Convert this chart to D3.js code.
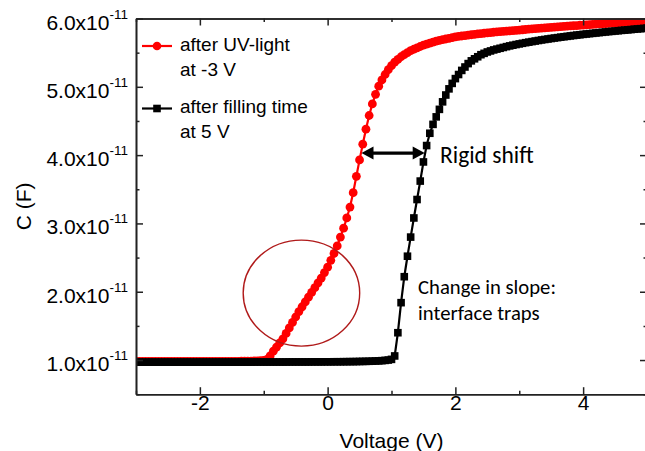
<!DOCTYPE html>
<html>
<head>
<meta charset="utf-8">
<script src="https://cdn.jsdelivr.net/npm/d3@7/dist/d3.min.js"></script>
<style>
  html, body { margin: 0; padding: 0; background: #fff; }
  svg { display: block; }
</style>
</head>
<body>
<svg id="chart" width="645" height="451"></svg>
<script>
// Gate-voltage sweep (V)
const voltage = [
  -3.00,-2.95,-2.90,-2.85,-2.80,-2.75,-2.70,-2.65,-2.60,-2.55,
  -2.50,-2.45,-2.40,-2.35,-2.30,-2.25,-2.20,-2.15,-2.10,-2.05,
  -2.00,-1.95,-1.90,-1.85,-1.80,-1.75,-1.70,-1.65,-1.60,-1.55,
  -1.50,-1.45,-1.40,-1.35,-1.30,-1.25,-1.20,-1.15,-1.10,-1.05,
  -1.00,-0.95,-0.90,-0.85,-0.80,-0.75,-0.70,-0.65,-0.60,-0.55,
  -0.50,-0.45,-0.40,-0.35,-0.30,-0.25,-0.20,-0.15,-0.10,-0.05,
   0.00, 0.05, 0.10, 0.15, 0.20, 0.25, 0.30, 0.35, 0.40, 0.45,
   0.50, 0.55, 0.60, 0.65, 0.70, 0.75, 0.80, 0.85, 0.90, 0.95,
   1.00, 1.05, 1.10, 1.15, 1.20, 1.25, 1.30, 1.35, 1.40, 1.45,
   1.50, 1.55, 1.60, 1.65, 1.70, 1.75, 1.80, 1.85, 1.90, 1.95,
   2.00, 2.05, 2.10, 2.15, 2.20, 2.25, 2.30, 2.35, 2.40, 2.45,
   2.50, 2.55, 2.60, 2.65, 2.70, 2.75, 2.80, 2.85, 2.90, 2.95,
   3.00, 3.05, 3.10, 3.15, 3.20, 3.25, 3.30, 3.35, 3.40, 3.45,
   3.50, 3.55, 3.60, 3.65, 3.70, 3.75, 3.80, 3.85, 3.90, 3.95,
   4.00, 4.05, 4.10, 4.15, 4.20, 4.25, 4.30, 4.35, 4.40, 4.45,
   4.50, 4.55, 4.60, 4.65, 4.70, 4.75, 4.80, 4.85, 4.90, 4.95,
   5.00
];

// Capacitance after UV-light at -3 V (units of 1e-11 F)
const capUV = [
  0.980,0.980,0.979,0.980,0.980,0.980,0.979,0.980,0.980,0.980,
  0.980,0.979,0.980,0.980,0.980,0.980,0.979,0.980,0.980,0.980,
  0.980,0.980,0.980,0.981,0.981,0.981,0.981,0.981,0.981,0.982,
  0.982,0.982,0.982,0.983,0.983,0.984,0.985,0.986,0.988,0.991,
  0.996,1.01,1.06,1.13,1.19,1.25,1.31,1.39,1.47,1.55,
  1.63,1.71,1.78,1.85,1.92,1.99,2.06,2.13,2.20,2.28,
  2.36,2.46,2.56,2.67,2.80,2.93,3.08,3.24,3.45,3.69,
  3.93,4.16,4.38,4.58,4.75,4.89,5.01,5.10,5.18,5.25,
  5.31,5.36,5.40,5.44,5.47,5.50,5.53,5.55,5.57,5.59,
  5.61,5.625,5.64,5.655,5.67,5.68,5.69,5.70,5.71,5.72,
  5.73,5.737,5.744,5.75,5.756,5.762,5.768,5.774,5.779,5.784,
  5.789,5.794,5.799,5.803,5.807,5.811,5.815,5.819,5.823,5.827,
  5.831,5.835,5.839,5.843,5.847,5.851,5.855,5.859,5.862,5.866,
  5.870,5.873,5.877,5.880,5.884,5.887,5.891,5.894,5.897,5.901,
  5.904,5.907,5.910,5.913,5.917,5.920,5.923,5.926,5.929,5.932,
  5.935,5.938,5.941,5.944,5.947,5.950,5.953,5.956,5.959,5.962,
  5.965
];

// Capacitance after filling time at 5 V (units of 1e-11 F)
const capFill = [
  0.969,0.970,0.970,0.969,0.970,0.970,0.970,0.969,0.970,0.970,
  0.970,0.970,0.969,0.970,0.970,0.970,0.970,0.970,0.969,0.970,
  0.970,0.970,0.970,0.970,0.970,0.970,0.970,0.970,0.970,0.970,
  0.970,0.970,0.970,0.970,0.970,0.970,0.970,0.971,0.971,0.971,
  0.971,0.971,0.971,0.971,0.971,0.971,0.971,0.971,0.972,0.972,
  0.972,0.972,0.972,0.972,0.972,0.973,0.973,0.973,0.973,0.974,
  0.974,0.974,0.975,0.975,0.975,0.976,0.976,0.977,0.977,0.978,
  0.979,0.980,0.981,0.982,0.984,0.986,0.988,0.991,0.995,1.000,
  1.010,1.06,1.40,1.84,2.22,2.52,2.80,3.08,3.35,3.62,
  3.90,4.14,4.32,4.45,4.56,4.67,4.78,4.88,4.97,5.05,
  5.12,5.18,5.24,5.29,5.34,5.38,5.41,5.44,5.47,5.49,
  5.51,5.525,5.54,5.552,5.564,5.576,5.588,5.599,5.609,5.619,
  5.628,5.637,5.646,5.654,5.662,5.670,5.678,5.686,5.693,5.700,
  5.707,5.714,5.720,5.727,5.733,5.739,5.745,5.751,5.757,5.762,
  5.768,5.773,5.778,5.783,5.788,5.793,5.798,5.803,5.808,5.812,
  5.817,5.821,5.826,5.830,5.834,5.838,5.843,5.847,5.851,5.855,
  5.859
];

// Axis ticks
const xMajor = [-2, 0, 2, 4];
const xMinor = [-3, -1, 1, 3, 5];
const yMajor = [1, 2, 3, 4, 5, 6];
const yMinor = [0.5, 1.5, 2.5, 3.5, 4.5, 5.5];

// Legend entries
const legendLines = [
  ["after UV-light", "at -3 V"],
  ["after filling time", "at 5 V"]
];

// Annotations (data coordinates)
const shiftArrow = { v0: 0.53, v1: 1.52, c: 4.03 };
const trapEllipse = { v: -0.41, c: 1.98, rv: 0.912, rc: 0.776 };

const svg = d3.select("#chart");
const x = d3.scaleLinear().domain([-3, 5]).range([136, 647]);
const y = d3.scaleLinear().domain([0.5, 6.0]).range([394.2, 18.5]);

const axisFont = "'Liberation Sans', Arial, sans-serif";
const noteFont = "Carlito, Calibri, Lato, sans-serif";
const axisColor = "#222";

svg.append("defs").append("clipPath").attr("id", "plotClip")
  .append("rect")
  .attr("x", x(-3)).attr("y", y(6))
  .attr("width", x(5) - x(-3)).attr("height", y(0.5) - y(6));

// ---- data series ----
const plot = svg.append("g").attr("clip-path", "url(#plotClip)");
const uvData = voltage.map((v, i) => [v, capUV[i]]);
const fillData = voltage.map((v, i) => [v, capFill[i]]);
const line = d3.line().x(d => x(d[0])).y(d => y(d[1]));

plot.append("path").datum(uvData)
  .attr("d", line).attr("fill", "none")
  .attr("stroke", "#ff0000").attr("stroke-width", 2.2);
plot.append("g").selectAll("circle").data(uvData).join("circle")
  .attr("cx", d => x(d[0])).attr("cy", d => y(d[1]))
  .attr("r", 4.4).attr("fill", "#ff0000");

plot.append("path").datum(fillData)
  .attr("d", line).attr("fill", "none")
  .attr("stroke", "#000").attr("stroke-width", 2.2);
const sq = 7.6;
plot.append("g").selectAll("rect").data(fillData).join("rect")
  .attr("x", d => x(d[0]) - sq / 2).attr("y", d => y(d[1]) - sq / 2)
  .attr("width", sq).attr("height", sq).attr("fill", "#000");

// ---- axes ----
function styleAxis(g) {
  g.selectAll("path.domain").attr("stroke", axisColor).attr("stroke-width", 1.6);
  g.selectAll(".tick line").attr("stroke", axisColor).attr("stroke-width", 1.5);
  g.selectAll(".tick text").remove();
}

const y0 = y(0.5), y1 = y(6), x0 = x(-3), x1 = x(5);

svg.append("g").attr("transform", `translate(0,${y0})`)
  .call(d3.axisBottom(x).tickValues(xMinor).tickSize(-3.5).tickSizeOuter(0)).call(styleAxis);
const xb = svg.append("g").attr("transform", `translate(0,${y0})`)
  .call(d3.axisBottom(x).tickValues(xMajor).tickSize(-7).tickSizeOuter(0)
    .tickFormat(d3.format("d")));
xb.selectAll("path.domain").attr("stroke", axisColor).attr("stroke-width", 1.6);
xb.selectAll(".tick line").attr("stroke", axisColor).attr("stroke-width", 1.5);
xb.selectAll(".tick text")
  .attr("y", 16).attr("dy", 0)
  .attr("font-family", axisFont).attr("font-size", 21).attr("fill", "#000")
  .text(d => d < 0 ? "-" + Math.abs(d) : String(d));

svg.append("g").attr("transform", `translate(0,${y1})`)
  .call(d3.axisTop(x).tickValues(xMinor).tickSize(-3.5).tickSizeOuter(0)).call(styleAxis);
svg.append("g").attr("transform", `translate(0,${y1})`)
  .call(d3.axisTop(x).tickValues(xMajor).tickSize(-7).tickSizeOuter(0)).call(styleAxis);

svg.append("g").attr("transform", `translate(${x0},0)`)
  .call(d3.axisLeft(y).tickValues(yMinor).tickSize(-3.5).tickSizeOuter(0)).call(styleAxis);
svg.append("g").attr("transform", `translate(${x0},0)`)
  .call(d3.axisLeft(y).tickValues(yMajor).tickSize(-7).tickSizeOuter(0)).call(styleAxis);

svg.append("g").attr("transform", `translate(${x1},0)`)
  .call(d3.axisRight(y).tickValues(yMinor).tickSize(-3.5).tickSizeOuter(0)).call(styleAxis);
svg.append("g").attr("transform", `translate(${x1},0)`)
  .call(d3.axisRight(y).tickValues(yMajor).tickSize(-7).tickSizeOuter(0)).call(styleAxis);

// y tick labels in scientific notation
const yl = svg.append("g").attr("font-family", axisFont).attr("fill", "#000");
yMajor.forEach(v => {
  const t = yl.append("text")
    .attr("x", x0 - 8).attr("y", y(v) + 11)
    .attr("text-anchor", "end").attr("font-size", 21);
  t.append("tspan").text(v.toFixed(1) + "x10");
  t.append("tspan").attr("dy", -11).attr("font-size", 13.5).text("-11");
});

// axis titles
svg.append("text")
  .attr("x", (x0 + x1) / 2).attr("y", 448)
  .attr("text-anchor", "middle")
  .attr("font-family", axisFont).attr("font-size", 21)
  .text("Voltage (V)");
svg.append("text")
  .attr("transform", `translate(31,${(y0 + y1) / 2}) rotate(-90)`)
  .attr("text-anchor", "middle")
  .attr("font-family", axisFont).attr("font-size", 21)
  .text("C (F)");

// ---- legend ----
const legend = svg.append("g").attr("font-family", axisFont).attr("font-size", 19);
const legendY = [46, 108.5];
const legendColor = ["#ff0000", "#000"];
legendY.forEach((ly, i) => {
  legend.append("line")
    .attr("x1", 142).attr("x2", 172).attr("y1", ly).attr("y2", ly)
    .attr("stroke", legendColor[i]).attr("stroke-width", 2.2);
  if (i === 0) {
    legend.append("circle").attr("cx", 157).attr("cy", ly).attr("r", 4.3).attr("fill", legendColor[i]);
  } else {
    legend.append("rect").attr("x", 157 - 3.8).attr("y", ly - 3.8)
      .attr("width", 7.6).attr("height", 7.6).attr("fill", legendColor[i]);
  }
  legendLines[i].forEach((txt, j) => {
    legend.append("text")
      .attr("x", 180).attr("y", ly + 4.8 + j * 25)
      .text(txt);
  });
});

// ---- annotations ----
svg.append("ellipse")
  .attr("cx", x(trapEllipse.v)).attr("cy", y(trapEllipse.c))
  .attr("rx", x(trapEllipse.v + trapEllipse.rv) - x(trapEllipse.v))
  .attr("ry", y(trapEllipse.c - trapEllipse.rc) - y(trapEllipse.c))
  .attr("fill", "none").attr("stroke", "#b01a1a").attr("stroke-width", 1.4);

const ax0 = x(shiftArrow.v0), ax1 = x(shiftArrow.v1), ay = y(shiftArrow.c);
const head = 12, half = 6.5;
svg.append("line")
  .attr("x1", ax0 + head - 2).attr("x2", ax1 - head + 2)
  .attr("y1", ay).attr("y2", ay)
  .attr("stroke", "#000").attr("stroke-width", 3.2);
svg.append("path")
  .attr("d", `M${ax0},${ay} L${ax0 + head},${ay - half} L${ax0 + head},${ay + half} Z`)
  .attr("fill", "#000");
svg.append("path")
  .attr("d", `M${ax1},${ay} L${ax1 - head},${ay - half} L${ax1 - head},${ay + half} Z`)
  .attr("fill", "#000");

const notes = svg.append("g").attr("font-family", noteFont).attr("fill", "#000");
notes.append("text").attr("x", 440).attr("y", 163).attr("font-size", 23.5).text("Rigid shift");
notes.append("text").attr("x", 418).attr("y", 294).attr("font-size", 20.7).text("Change in slope:");
notes.append("text").attr("x", 418).attr("y", 320).attr("font-size", 20.7).text("interface traps");
</script>
</body>
</html>
